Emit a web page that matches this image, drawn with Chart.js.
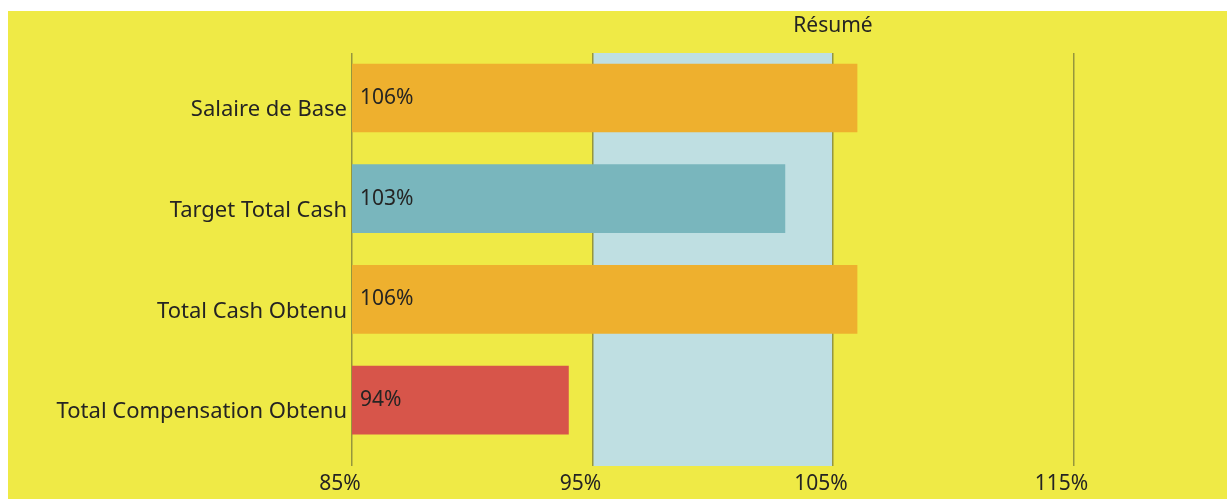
<!DOCTYPE html>
<html>
<head>
<meta charset="utf-8">
<script src="https://cdn.jsdelivr.net/npm/chart.js@4"></script>
<style>
  html, body { margin: 0; padding: 0; background: #ffffff; overflow: hidden; width: 1227px; height: 499px; }
  #wrap { position: absolute; left: 8px; top: 11px; width: 1306px; height: 488px; background: #EFEA46; }
</style>
</head>
<body>
<div id="wrap"><canvas id="resume" width="1306" height="488"></canvas></div>
<script>
// Résumé: ratio par élément de rémunération (%)
const categories = ['Salaire de Base', 'Target Total Cash', 'Total Cash Obtenu', 'Total Compensation Obtenu'];
const ratios = [106, 103, 106, 94];
const barColors = ['#EEB02E', '#79B6BD', '#EEB02E', '#D7554A'];
const xTicks = [85, 95, 105, 115];
const targetBand = [95, 105];

const textColor = '#252423';
const fontFamily = "'Noto Sans', 'Open Sans', sans-serif";

// Light blue target band drawn under the grid lines
const bandPlugin = {
    id: 'band',
    beforeDraw(chart) {
        const { ctx, chartArea, scales } = chart;
        const x0 = scales.x.getPixelForValue(targetBand[0]);
        const x1 = scales.x.getPixelForValue(targetBand[1]);
        ctx.save();
        ctx.fillStyle = '#BFDFE2';
        ctx.fillRect(x0, chartArea.top, x1 - x0, chartArea.bottom - chartArea.top);
        ctx.restore();
    }
};

// Value labels just inside the bar start (the axis starts at 85, not 0)
const valueLabels = {
    id: 'valueLabels',
    afterDatasetsDraw(chart) {
        const { ctx, chartArea } = chart;
        const meta = chart.getDatasetMeta(0);
        ctx.save();
        ctx.font = '21px ' + fontFamily;
        ctx.fillStyle = textColor;
        ctx.textAlign = 'left';
        ctx.textBaseline = 'middle';
        meta.data.forEach((bar, i) => {
            ctx.fillText(ratios[i] + '%', chartArea.left + 8, bar.y);
        });
        ctx.restore();
    }
};

new Chart(document.getElementById('resume'), {
    type: 'bar',
    plugins: [bandPlugin, valueLabels],
    data: {
        datasets: [{
            data: ratios.map((v, i) => ({ x: v, y: i })),
            backgroundColor: barColors,
            borderWidth: 0,
            barThickness: 68
        }]
    },
    options: {
        indexAxis: 'y',
        responsive: false,
        animation: false,
        layout: { padding: 0 },
        plugins: {
            legend: { display: false },
            tooltip: { enabled: false },
            title: {
                display: true,
                text: 'Résumé',
                fullSize: false,
                color: textColor,
                font: { family: fontFamily, size: 21, weight: 'normal', lineHeight: 1.2 },
                padding: { top: 2, bottom: 14.8 }
            }
        },
        scales: {
            x: {
                type: 'linear',
                min: 85,
                max: 125,
                afterBuildTicks: axis => { axis.ticks = xTicks.map(v => ({ value: v })); },
                afterFit: axis => { axis.height = 33; },
                border: { display: false },
                grid: { color: '#96963C', lineWidth: 1.5, drawTicks: false },
                ticks: {
                    color: textColor,
                    font: { family: fontFamily, size: 21 },
                    padding: 5,
                    labelOffset: -12,
                    maxRotation: 0,
                    callback: v => v + '%'
                }
            },
            y: {
                type: 'linear',
                reverse: true,
                offset: false,
                min: -0.447,
                max: 3.655,
                afterBuildTicks: axis => { axis.ticks = categories.map((c, i) => ({ value: i })); },
                afterFit: axis => { axis.width = 344; },
                border: { display: false },
                grid: { display: false, drawTicks: false, offset: false },
                ticks: {
                    color: textColor,
                    font: { family: fontFamily, size: 22 },
                    padding: 5,
                    labelOffset: 12,
                    callback: v => categories[v]
                }
            }
        }
    }
});
</script>
</body>
</html>
